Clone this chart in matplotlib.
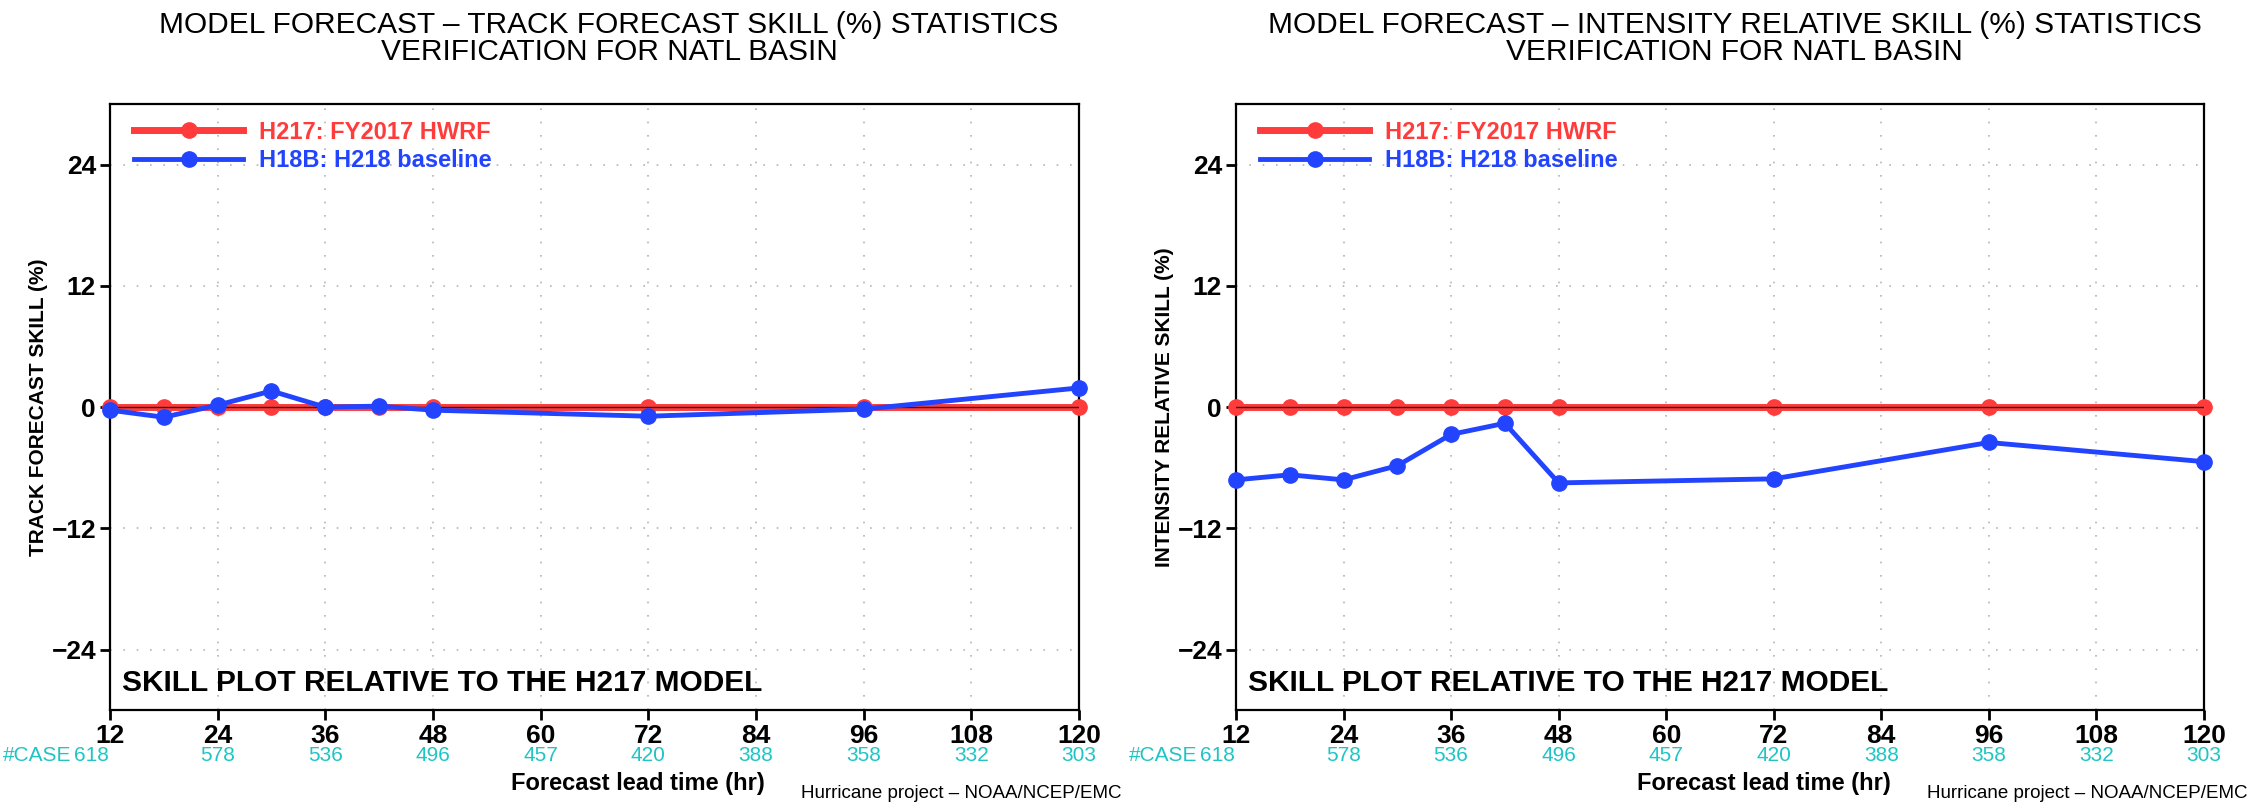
import matplotlib
matplotlib.use("Agg")
import matplotlib.pyplot as plt

# ---------------------------------------------------------------------------
# data
lead_hours = [12, 18, 24, 30, 36, 42, 48, 72, 96, 120]
h217_track = [0, 0, 0, 0, 0, 0, 0, 0, 0, 0]
h18b_track = [-0.3, -1.0, 0.2, 1.6, 0.0, 0.1, -0.3, -0.9, -0.2, 1.9]
h217_inten = [0, 0, 0, 0, 0, 0, 0, 0, 0, 0]
h18b_inten = [-7.2, -6.7, -7.2, -5.8, -2.7, -1.6, -7.5, -7.1, -3.5, -5.4]

tick_hours = [12, 24, 36, 48, 60, 72, 84, 96, 108, 120]
case_counts = [618, 578, 536, 496, 457, 420, 388, 358, 332, 303]
y_ticks = [-24, -12, 0, 12, 24]

label_h217 = "H217: FY2017 HWRF"
label_h18b = "H18B: H218 baseline"
titles = ["MODEL FORECAST \u2013 TRACK FORECAST SKILL (%) STATISTICS",
          "MODEL FORECAST \u2013 INTENSITY RELATIVE SKILL (%) STATISTICS"]
ylabels = ["TRACK FORECAST SKILL (%)", "INTENSITY RELATIVE SKILL (%)"]

#---------------------------------------------------------------------------

plt.rcParams['font.family'] = ["Liberation Sans", "DejaVu Sans"]

RED = '#ff3b3b'
BLUE = '#2244ff'
CYAN = '#20c4c4'

fig = plt.figure(figsize=(22.67, 8.07), dpi=100)

panels = [
    ([0.0485, 0.120, 0.4274, 0.751], h217_track, h18b_track, 0),
    ([0.5452, 0.120, 0.4270, 0.751], h217_inten, h18b_inten, 1),
]

for rect, red_vals, blue_vals, k in panels:
    ax = fig.add_axes(rect)
    ax.set_xlim(12, 120)
    ax.set_ylim(-30, 30)

    for xv in tick_hours:
        ax.axvline(xv, color='#b4b4b4', lw=1.2, ls=(0, (1, 7)), zorder=0)
    for yv in y_ticks:
        ax.axhline(yv, color='#b4b4b4', lw=1.2, ls=(0, (1, 7)), zorder=0)

    ax.plot(lead_hours, red_vals, color=RED, lw=5, marker='o', ms=11,
            label=label_h217, zorder=3, clip_on=False)
    ax.axhline(0, color='#202020', lw=1.0, zorder=4)
    ax.plot(lead_hours, blue_vals, color=BLUE, lw=3.5, marker='o', ms=11,
            label=label_h18b, zorder=5, clip_on=False)

    ax.set_xticks(tick_hours)
    ax.set_yticks(y_ticks)
    ax.set_xticklabels([str(t) for t in tick_hours], fontsize=19, fontweight='bold')
    ax.set_yticklabels([str(t).replace('-', '\u2212') for t in y_ticks],
                       fontsize=19, fontweight='bold')
    ax.tick_params(direction='out', length=7, width=2, pad=3)
    for s in ax.spines.values():
        s.set_linewidth(1.6)

    ax.set_ylabel(ylabels[k], fontsize=15, fontweight='bold')
    ax.yaxis.set_label_coords(-0.064, 0.5)

    leg = ax.legend(loc='upper left', frameon=False, numpoints=1,
                    prop={'size': 17, 'weight': 'bold'},
                    handlelength=4.6, handletextpad=0.7, labelspacing=0.22,
                    borderaxespad=0.3, bbox_to_anchor=(0.008, 1.0))
    for txt, c in zip(leg.get_texts(), [RED, BLUE]):
        txt.set_color(c)

    ax.text(0.012, 0.045, "SKILL PLOT RELATIVE TO THE H217 MODEL", fontsize=21.5,
            fontweight='bold', transform=ax.transAxes, va='center', ha='left')

    ax.text(0.515, 1.130, titles[k], fontsize=21.5, transform=ax.transAxes,
            ha='center', va='center')
    ax.text(0.515, 1.086, "VERIFICATION FOR NATL BASIN", fontsize=21.5,
            transform=ax.transAxes, ha='center', va='center')

    # case counts under the hour labels, the first one sits left of its tick
    for i, (xv, n) in enumerate(zip(tick_hours, case_counts)):
        if i == 0:
            ax.annotate(str(n), xy=(xv, 0), xycoords=('data', 'axes fraction'),
                        xytext=(-1, -33), textcoords='offset points',
                        ha='right', va='center', fontsize=15, color=CYAN)
        else:
            ax.annotate(str(n), xy=(xv, 0), xycoords=('data', 'axes fraction'),
                        xytext=(0, -33), textcoords='offset points',
                        ha='center', va='center', fontsize=15, color=CYAN)
    ax.annotate("#CASE", xy=(12, 0), xycoords=('data', 'axes fraction'),
                xytext=(-28, -33), textcoords='offset points',
                ha='right', va='center', fontsize=15, color=CYAN)

    ax.annotate("Forecast lead time (hr)", xy=(0.545, 0), xycoords='axes fraction',
                xytext=(0, -53), textcoords='offset points', ha='center',
                va='center', fontsize=17, fontweight='bold')
    ax.annotate("Hurricane project \u2013 NOAA/NCEP/EMC", xy=(1.0, 0),
                xycoords='axes fraction', xytext=(31, -60),
                textcoords='offset points', ha='right', va='center', fontsize=13.5)

fig.savefig("out.png", dpi=100)
